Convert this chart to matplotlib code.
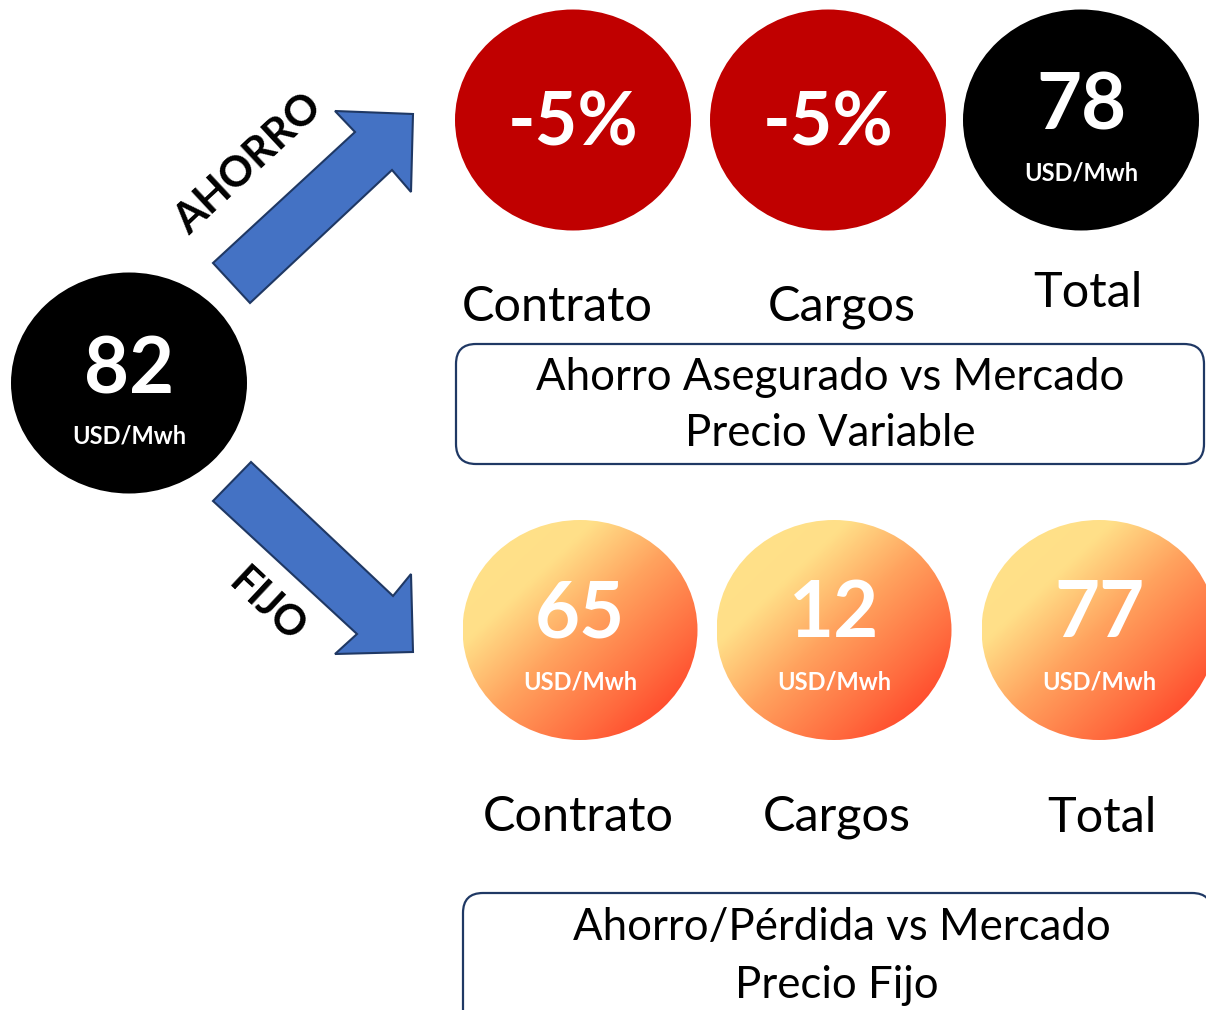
# infographic: precio variable vs precio fijo
import numpy as np
import matplotlib
matplotlib.use("Agg")
import matplotlib.pyplot as plt
from matplotlib.patches import Ellipse, Polygon, FancyBboxPatch
from matplotlib.colors import LinearSegmentedColormap

plt.rcParams['font.family'] = ['Lato', 'DejaVu Sans']

# data
start_value = "82"
unit = "USD/Mwh"
top_values = ["-5%", "-5%", "78"]
top_colors = ["#C00000", "#C00000", "#000000"]
top_has_unit = [False, False, True]
top_labels = ["Contrato", "Cargos", "Total"]
top_box = ["Ahorro Asegurado vs Mercado", "Precio Variable"]
bottom_values = ["65", "12", "77"]
bottom_labels = ["Contrato", "Cargos", "Total"]
bottom_box = ["Ahorro/Pérdida vs Mercado", "Precio Fijo"]
arrow_labels = ["AHORRO", "FIJO"]

W, H = 1206, 1010
fig = plt.figure(figsize=(W / 100, H / 100), dpi=100)
ax = fig.add_axes([0, 0, 1, 1])
ax.axis('off')

navy = "#1F3864"
blue = "#4472C4"

# start circle
ax.add_patch(Ellipse((129, 383), 236, 221, fc="black", ec="none"))
ax.text(129, 371, start_value, color="white", fontsize=56, fontweight="bold", ha="center", va="center")
ax.text(129, 436, unit, color="white", fontsize=17, fontweight="bold", ha="center", va="center")

# arrows
up_arrow = [(213, 263), (355, 132), (335, 111), (413, 114), (411, 192), (392, 170), (250, 303)]
down_arrow = [(251, 462), (393, 596), (411, 574), (413, 652), (335, 654), (357, 634), (213, 501)]
for pts in [up_arrow, down_arrow]:
    ax.add_patch(Polygon(pts, closed=True, fc=blue, ec=navy, lw=1.5, joinstyle="miter"))

ax.text(249, 164, arrow_labels[0], fontsize=30.5, fontweight="bold", rotation=43,
        ha="center", va="center", rotation_mode="anchor")
ax.text(267, 606, arrow_labels[1], fontsize=30, fontweight="bold", rotation=-43,
        ha="center", va="center", rotation_mode="anchor")

# top row
top_x = [573, 828, 1081]
for i in range(3):
    x = top_x[i]
    ax.add_patch(Ellipse((x, 120), 236, 221, fc=top_colors[i], ec="none"))
    if top_has_unit[i]:
        ax.text(x, 108, top_values[i], color="white", fontsize=56, fontweight="bold", ha="center", va="center")
        ax.text(x, 173, unit, color="white", fontsize=17, fontweight="bold", ha="center", va="center")
    else:
        ax.text(x, 124, top_values[i], color="white", fontsize=53, fontweight="bold", ha="center", va="center")

top_label_pos = [(557, 307), (842, 307), (1088, 293)]
for lab, (x, y) in zip(top_labels, top_label_pos):
    ax.text(x, y, lab, fontsize=35, ha="center", va="center")

ax.add_patch(FancyBboxPatch((456, 344), 748, 120, boxstyle="round,pad=0,rounding_size=20",
                            fc="white", ec=navy, lw=1.6))
ax.text(830, 378, top_box[0], fontsize=31.5, ha="center", va="center")
ax.text(830, 434, top_box[1], fontsize=31.5, ha="center", va="center")

# bottom row with gradient fill
grad = LinearSegmentedColormap.from_list("warm", [(0.0, "#FFE38A"), (0.28, "#FFDF88"),
                                                  (0.5, "#FFA25E"), (0.75, "#FF6A3E"),
                                                  (1.0, "#FF2A1A")])
bottom_x = [580, 834, 1099]
ew, eh, ey = 235, 220, 630
u, v = np.meshgrid(np.linspace(0, 1, 200), np.linspace(0, 1, 200))
t = 0.5 * (u + v)
for i in range(3):
    x = bottom_x[i]
    e = Ellipse((x, ey), ew, eh, fc="none", ec="none")
    ax.add_patch(e)
    im = ax.imshow(t, cmap=grad, vmin=0, vmax=1, origin="upper",
                   extent=(x - ew / 2, x + ew / 2, ey + eh / 2, ey - eh / 2), interpolation="bilinear")
    im.set_clip_path(e)
    ax.text(x, 615, bottom_values[i], color="white", fontsize=56, fontweight="bold", ha="center", va="center")
    ax.text(x, 682, unit, color="white", fontsize=17, fontweight="bold", ha="center", va="center")

bottom_label_pos = [(578, 817), (837, 817), (1102, 818)]
for lab, (x, y) in zip(bottom_labels, bottom_label_pos):
    ax.text(x, y, lab, fontsize=35, ha="center", va="center")

ax.add_patch(FancyBboxPatch((463, 893), 749, 140, boxstyle="round,pad=0,rounding_size=20",
                            fc="white", ec=navy, lw=1.6))
ax.text(842, 927, bottom_box[0], fontsize=31.5, ha="center", va="center")
ax.text(837, 985, bottom_box[1], fontsize=31.5, ha="center", va="center")

ax.set_aspect("auto")
ax.set_xlim(0, W)
ax.set_ylim(H, 0)

plt.savefig("out.png", dpi=100)
